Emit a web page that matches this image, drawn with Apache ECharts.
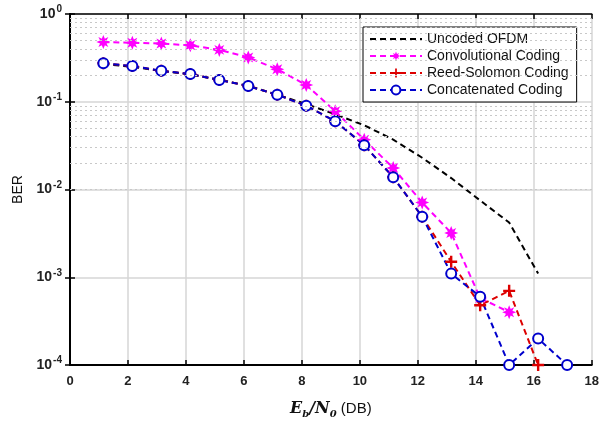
<!DOCTYPE html>
<html>
<head>
<meta charset="utf-8">
<script src="https://cdn.jsdelivr.net/npm/echarts@6/dist/echarts.min.js"></script>
<style>
  html, body { margin: 0; padding: 0; background: #fff; }
  #chart { width: 602px; height: 424px; }
</style>
</head>
<body>
<div id="chart"></div>
<script>
// Eb/N0 points (dB) and BER readings per scheme
const snrDb = [1.15, 2.15, 3.15, 4.15, 5.15, 6.15, 7.15, 8.15, 9.15, 10.15, 11.15, 12.15, 13.15, 14.15, 15.15, 16.15, 17.15];
const uncodedBer = [0.27, 0.25, 0.225, 0.205, 0.178, 0.152, 0.12, 0.094, 0.072, 0.054, 0.037, 0.023, 0.0135, 0.0075, 0.0042, 0.0011];
const convBer = [0.48, 0.47, 0.46, 0.44, 0.39, 0.32, 0.235, 0.155, 0.078, 0.037, 0.0176, 0.0071, 0.0032, 0.00058, 0.0004];
const rsBer = [0.275, 0.255, 0.225, 0.207, 0.177, 0.151, 0.12, 0.09, 0.06, 0.032, 0.0138, 0.0049, 0.0015, 0.00048, 0.0007, 0.0001];
const concatBer = [0.275, 0.255, 0.225, 0.207, 0.177, 0.151, 0.12, 0.09, 0.06, 0.032, 0.0138, 0.0049, 0.0011, 0.0006, 0.0001, 0.0002, 0.0001];
const seriesNames = ['Uncoded OFDM', 'Convolutional Coding', 'Reed-Solomon Coding', 'Concatenated Coding'];
// minor grid levels (2..9 per decade)
const minorLevels = [];
[1e-4, 1e-3, 1e-2, 1e-1].forEach(d => {
    for (let k = 2; k <= 9; k++) minorLevels.push(+(d * k).toPrecision(2));
});

const pairs = (ys) => ys.map((y, i) => [snrDb[i], y]);
const dash = [6, 4];
const starPath = 'path://M0,-10L2.2,-4.6L7.1,-7.1L4.6,-2.2L10,0L4.6,2.2L7.1,7.1L2.2,4.6L0,10L-2.2,4.6L-7.1,7.1L-4.6,2.2L-10,0L-4.6,-2.2L-7.1,-7.1L-2.2,-4.6Z';
const plusPath = 'path://M-1.2,-6L1.2,-6L1.2,-1.2L6,-1.2L6,1.2L1.2,1.2L1.2,6L-1.2,6L-1.2,1.2L-6,1.2L-6,-1.2L-1.2,-1.2Z';

const sup = (v) => '{b|10}{s|' + Math.round(Math.log10(v)) + '}';

const option = {
    animation: false,
    backgroundColor: '#fff',
    grid: { left: 70, right: 7, top: 14, bottom: 59 },
    legend: {
        data: [
            { name: seriesNames[0], itemStyle: { opacity: 0 } },
            seriesNames[1], seriesNames[2], seriesNames[3]
        ],
        orient: 'vertical',
        left: 363,
        top: 27,
        padding: [5, 8, 5, 6],
        itemGap: 3,
        itemWidth: 52,
        itemHeight: 11,
        backgroundColor: '#fff',
        borderColor: '#000',
        borderWidth: 1,
        borderRadius: 0,
        textStyle: { fontFamily: 'Liberation Sans', fontSize: 14, color: '#111' }
    },
    xAxis: [{
        type: 'value', min: 0, max: 18, interval: 2,
        name: '{e|E}{sub|b}{e|/N}{sub|0}{t| (DB)}',
        nameLocation: 'middle', nameGap: 34,
        nameTextStyle: {
            rich: {
                e: { fontFamily: 'DejaVu Serif', fontStyle: 'italic', fontWeight: 'bold', fontSize: 16, color: '#111' },
                sub: { fontFamily: 'DejaVu Serif', fontStyle: 'italic', fontWeight: 'bold', fontSize: 10, color: '#111', padding: [10, 0, 0, 0] },
                t: { fontFamily: 'Liberation Sans', fontSize: 15, color: '#111' }
            }
        },
        axisLine: { lineStyle: { color: '#000', width: 2 } },
        axisTick: { inside: true, length: 5, lineStyle: { color: '#000', width: 1.5 } },
        axisLabel: { margin: 10, fontFamily: 'Liberation Sans', fontWeight: 'bold', fontSize: 13, color: '#222' },
        splitLine: { show: true, lineStyle: { color: '#d6d6d6', width: 1.5 } }
    }, {
        type: 'value', min: 0, max: 18, interval: 2, position: 'top',
        axisLine: { lineStyle: { color: '#000', width: 1.5 } },
        axisTick: { inside: true, length: 5, lineStyle: { color: '#000', width: 1.5 } },
        axisLabel: { show: false },
        splitLine: { show: false }
    }],
    yAxis: [{
        type: 'log', logBase: 10, min: 1e-4, max: 1,
        name: 'BER', nameLocation: 'middle', nameGap: 45,
        nameTextStyle: { fontFamily: 'Liberation Sans', fontSize: 14, color: '#111' },
        axisLine: { lineStyle: { color: '#000', width: 2 } },
        axisTick: { inside: true, length: 5, lineStyle: { color: '#000', width: 1.5 } },
        axisLabel: {
            margin: 8,
            formatter: sup,
            rich: {
                b: { fontFamily: 'Liberation Sans', fontWeight: 'bold', fontSize: 14, color: '#222' },
                s: { fontFamily: 'Liberation Sans', fontWeight: 'bold', fontSize: 10, color: '#222', padding: [0, 0, 9, 1] }
            }
        },
        splitLine: { show: true, lineStyle: { color: '#d6d6d6', width: 1.5 } }
    }, {
        type: 'log', logBase: 10, min: 1e-4, max: 1, position: 'right',
        axisLine: { lineStyle: { color: '#000', width: 1.5 } },
        axisTick: { inside: true, length: 5, lineStyle: { color: '#000', width: 1.5 } },
        axisLabel: { show: false },
        splitLine: { show: false }
    }],
    series: [{
        name: 'minor grid', type: 'line', data: [], silent: true,
        markLine: {
            silent: true, symbol: 'none', label: { show: false },
            lineStyle: { color: '#c8c8c8', type: [2, 3], width: 1 },
            data: minorLevels.map(v => ({ yAxis: v }))
        }
    }, {
        name: seriesNames[0], type: 'line', data: pairs(uncodedBer),
        showSymbol: false, symbol: 'none', clip: false,
        itemStyle: { color: '#000' },
        lineStyle: { color: '#000', width: 2, type: dash }
    }, {
        name: seriesNames[1], type: 'line', data: pairs(convBer),
        symbol: starPath, symbolSize: 14, clip: false,
        itemStyle: { color: '#ff00ff' },
        lineStyle: { color: '#ff00ff', width: 2, type: dash }
    }, {
        name: seriesNames[2], type: 'line', data: pairs(rsBer),
        symbol: plusPath, symbolSize: 12, clip: false,
        itemStyle: { color: '#dd0000' },
        lineStyle: { color: '#dd0000', width: 2, type: dash }
    }, {
        name: seriesNames[3], type: 'line', data: pairs(concatBer),
        symbol: 'emptyCircle', symbolSize: 10, clip: false,
        itemStyle: { color: '#0000cc', borderColor: '#0000cc', borderWidth: 2 },
        lineStyle: { color: '#0000cc', width: 2, type: dash }
    }]
};

const chart = echarts.init(document.getElementById('chart'));
chart.setOption(option);
</script>
</body>
</html>
